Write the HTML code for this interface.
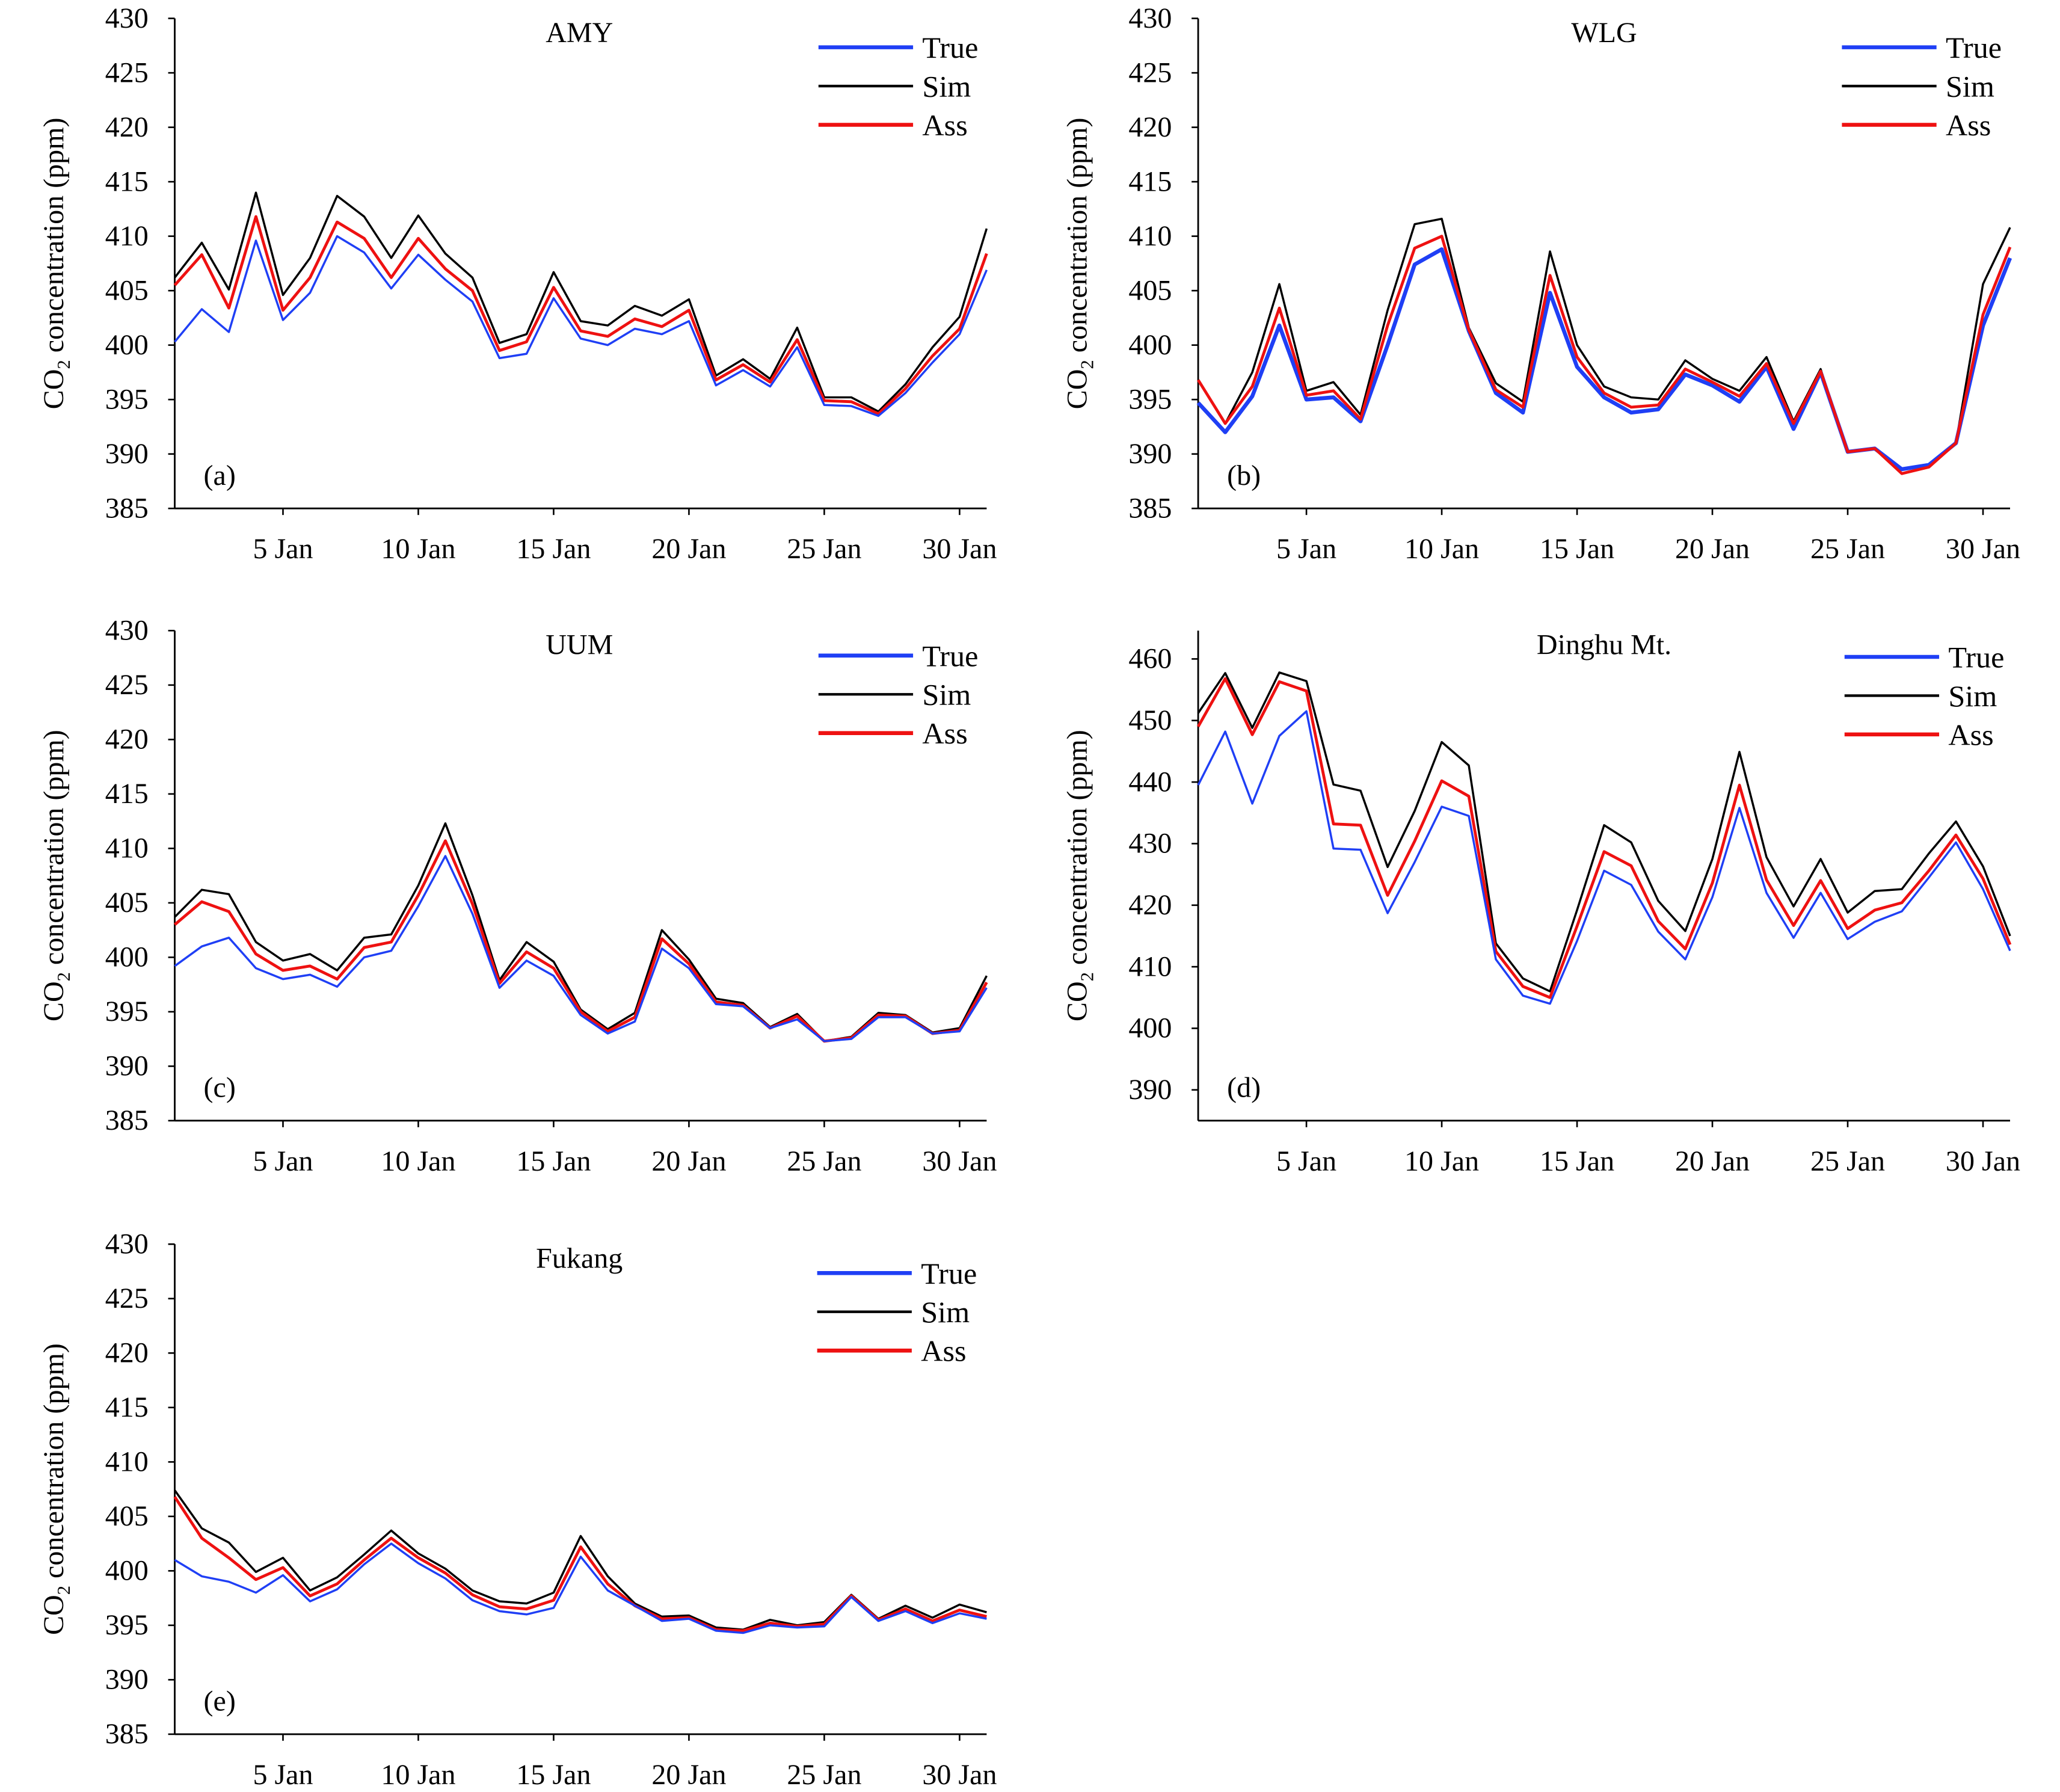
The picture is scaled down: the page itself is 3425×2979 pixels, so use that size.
<!DOCTYPE html>
<html><head><meta charset="utf-8"><style>
html,body{margin:0;padding:0;background:#fff}
svg{display:block}
text{font-family:"Liberation Serif",serif;fill:#000}
</style></head><body>
<svg id="chart" width="3425" height="2979" viewBox="0 0 1568 1364" preserveAspectRatio="none" xmlns="http://www.w3.org/2000/svg"></svg>
<script>
const days = Array.from({length:31},(_,i)=>i+1);
const xTickDays = [5,10,15,20,25,30];
const xTickLabels = ["5 Jan","10 Jan","15 Jan","20 Jan","25 Jan","30 Jan"];
const yTicksStd = [385,390,395,400,405,410,415,420,425,430];
const yTicksDinghu = [390,400,410,420,430,440,450,460];
const seriesNames = ["True","Sim","Ass"];

const amyTrue=[400.3,403.3,401.2,409.6,402.3,404.8,410,408.5,405.2,408.3,406,404,398.8,399.2,404.3,400.6,400,401.5,401,402.2,396.3,397.7,396.2,399.8,394.5,394.4,393.5,395.6,398.4,401,406.9];
const amySim=[406.2,409.4,405.1,414,404.6,408,413.7,411.8,408,411.9,408.4,406.2,400.2,401,406.7,402.2,401.8,403.6,402.7,404.2,397.2,398.7,396.9,401.6,395.2,395.2,393.9,396.4,399.8,402.6,410.7];
const amyAss=[405.5,408.3,403.4,411.8,403.2,406.2,411.3,409.8,406.2,409.8,407,405,399.5,400.3,405.3,401.3,400.8,402.4,401.7,403.2,396.8,398.2,396.6,400.5,394.9,394.8,393.7,396,399,401.5,408.4];

const wlgTrue=[394.7,392,395.3,401.8,395,395.2,393,400,407.4,408.8,401.3,395.6,393.8,404.8,398,395.2,393.8,394.1,397.3,396.3,394.8,398,392.3,397.5,390.2,390.5,388.6,389,391,401.8,408];
const wlgSim=[396.8,392.8,397.5,405.6,395.8,396.6,393.6,403.2,411.1,411.6,401.6,396.5,394.8,408.6,400,396.2,395.2,395,398.6,396.9,395.8,398.9,393,397.8,390.2,390.5,388.2,388.8,391,405.6,410.8];
const wlgAss=[396.8,392.8,396.2,403.4,395.4,395.8,393.2,401.8,408.9,410,401.4,395.9,394.3,406.4,398.9,395.6,394.3,394.5,397.8,396.6,395.3,398.3,392.8,397.6,390.2,390.5,388.2,388.8,391,402.8,409];

const uumTrue=[399.2,401,401.8,399,398,398.4,397.3,400,400.6,404.7,409.3,404,397.2,399.7,398.3,394.7,393,394.1,400.8,399,395.7,395.5,393.5,394.3,392.3,392.5,394.5,394.5,393,393.2,397.2];
const uumSim=[403.7,406.2,405.8,401.4,399.7,400.3,398.8,401.8,402.1,406.6,412.3,405.7,397.9,401.4,399.6,395.2,393.4,394.9,402.5,399.8,396.2,395.8,393.6,394.8,392.3,392.7,394.9,394.7,393.1,393.5,398.3];
const uumAss=[403,405.1,404.2,400.3,398.8,399.2,398,400.9,401.4,405.7,410.7,404.9,397.6,400.5,399,395,393.2,394.5,401.7,399.4,395.9,395.6,393.5,394.6,392.3,392.6,394.7,394.6,393,393.3,397.7];

const dhTrue=[439.5,448.2,436.5,447.5,451.5,429.2,429,418.7,427,436,434.5,411.2,405.3,404,414.2,425.6,423.3,415.7,411.2,421.3,435.8,422,414.7,422,414.5,417.3,419,424.5,430.2,422.6,412.6];
const dhSim=[451.2,457.7,448.8,457.8,456.4,439.6,438.6,426.2,435.3,446.5,442.7,413.8,408.1,406,419.2,433,430.2,420.7,415.8,427.5,444.9,427.8,419.8,427.5,418.8,422.3,422.6,428.4,433.6,426.3,415];
const dhAss=[449,456.8,447.7,456.3,454.8,433.2,433,421.6,430.4,440.2,437.7,412.5,406.8,405,416.6,428.7,426.4,417.4,412.9,423.6,439.5,424.1,416.7,424,416.2,419.2,420.4,425.6,431.4,424.3,413.6];

const fkTrue=[401,399.5,399,398,399.6,397.2,398.3,400.6,402.5,400.7,399.3,397.3,396.3,396,396.6,401.3,398.2,396.8,395.4,395.6,394.5,394.3,395,394.8,394.9,397.6,395.4,396.3,395.2,396.1,395.6];
const fkSim=[407.4,403.9,402.6,399.9,401.2,398.2,399.4,401.5,403.7,401.6,400.2,398.2,397.2,397,398,403.2,399.5,397,395.8,395.9,394.8,394.6,395.5,395,395.3,397.8,395.6,396.8,395.7,396.9,396.2];
const fkAss=[406.8,403,401.2,399.2,400.3,397.7,398.8,401,403,401.2,399.8,397.8,396.7,396.5,397.3,402.2,398.8,396.8,395.6,395.7,394.6,394.5,395.2,394.9,395.1,397.7,395.5,396.5,395.4,396.4,395.8];

const NS="http://www.w3.org/2000/svg";
const svg=document.getElementById('chart');
function mk(tag,attrs,parent){const e=document.createElementNS(NS,tag);for(const k in attrs)e.setAttribute(k,attrs[k]);(parent||svg).appendChild(e);return e;}

const colors={True:"#1f3ff5",Sim:"#000",Ass:"#ee1111"};

function panel(cfg){
  const g=mk('g',{});
  
  
  const L=cfg.left,R=cfg.left+618,T=cfg.top,B=cfg.bottom;
  const ymin=cfg.ymin,ymax=cfg.ymax;
  const xs=d=>L+(d-1)*(R-L)/30;
  const ys=v=>B-(v-ymin)*(B-T)/(ymax-ymin);
  const ya=mk('line',{x1:L,y1:T,x2:L,y2:B,stroke:'#000','stroke-width':1.3},g);
  
  
  const xa=mk('line',{x1:L,y1:B,x2:R,y2:B,stroke:'#000','stroke-width':1.3},g);
  
  
  cfg.yticks.forEach(v=>{
    mk('line',{x1:L-5,y1:ys(v),x2:L,y2:ys(v),stroke:'#000','stroke-width':1.2},g);
    const t=mk('text',{x:L-20,y:ys(v)+7,'font-size':22,'text-anchor':'end'},g);
    t.textContent=v;
    
    
  });
  xTickDays.forEach((d,i)=>{
    mk('line',{x1:xs(d),y1:B,x2:xs(d),y2:B+5,stroke:'#000','stroke-width':1.2},g);
    const t=mk('text',{x:xs(d),y:B+38,'font-size':22,'text-anchor':'middle'},g);
    t.textContent=xTickLabels[i];
    
    
  });
  const yl=mk('text',{transform:`translate(${L-85},${(T+B)/2}) rotate(-90)`,'font-size':22,'text-anchor':'middle'},g);
  yl.innerHTML='CO<tspan font-size="14" dy="5">2</tspan><tspan dy="-5"> concentration (ppm)</tspan>';
  
  
  const ti=mk('text',{x:cfg.titleX,y:T+18,'font-size':22,'text-anchor':'middle'},g);
  ti.textContent=cfg.title;
  
  
  const pl=mk('text',{x:L+22,y:B-18,'font-size':22},g);
  pl.textContent=cfg.label;
  
  
  const draw=[['True',cfg.tru,cfg.trueW],['Sim',cfg.sim,1.6],['Ass',cfg.ass,2.2]];
  (cfg.redOnTop?[draw[1],draw[0],draw[2]]:[draw[1],draw[2],draw[0]]).forEach(([n,arr,w])=>{
    const p=mk('polyline',{points:arr.map((v,i)=>xs(days[i])+','+ys(v)).join(' '),fill:'none',stroke:colors[n],'stroke-width':w,'stroke-linejoin':'round'},g);
    
    
  });
  seriesNames.forEach((n,i)=>{
    const yy=cfg.legY+i*29.5;
    const ll=mk('line',{x1:cfg.legX,y1:yy,x2:cfg.legX+72,y2:yy,stroke:colors[n],'stroke-width':n==='Sim'?2:3},g);
    
    
    const lt=mk('text',{x:cfg.legX+79,y:yy+8,'font-size':23},g);
    lt.textContent=n;
    
    
  });
}

panel({id:'amy',title:'AMY',label:'(a)',left:133,top:14,bottom:387,ymin:385,ymax:430,yticks:yTicksStd,tru:amyTrue,sim:amySim,ass:amyAss,titleX:441,legX:623,legY:36,trueW:1.6,redOnTop:false});
panel({id:'wlg',title:'WLG',label:'(b)',left:912,top:14,bottom:387,ymin:385,ymax:430,yticks:yTicksStd,tru:wlgTrue,sim:wlgSim,ass:wlgAss,titleX:1221,legX:1402,legY:36,trueW:3,redOnTop:true});
panel({id:'uum',title:'UUM',label:'(c)',left:133,top:480,bottom:853,ymin:385,ymax:430,yticks:yTicksStd,tru:uumTrue,sim:uumSim,ass:uumAss,titleX:441,legX:623,legY:499,trueW:1.6,redOnTop:false});
panel({id:'dinghu',title:'Dinghu Mt.',label:'(d)',left:912,top:480,bottom:853,ymin:385,ymax:464.6,yticks:yTicksDinghu,tru:dhTrue,sim:dhSim,ass:dhAss,titleX:1221,legX:1404,legY:500,trueW:1.6,redOnTop:false});
panel({id:'fukang',title:'Fukang',label:'(e)',left:133,top:947,bottom:1320,ymin:385,ymax:430,yticks:yTicksStd,tru:fkTrue,sim:fkSim,ass:fkAss,titleX:441,legX:622,legY:969,trueW:1.6,redOnTop:false});
</script>
</body></html>
